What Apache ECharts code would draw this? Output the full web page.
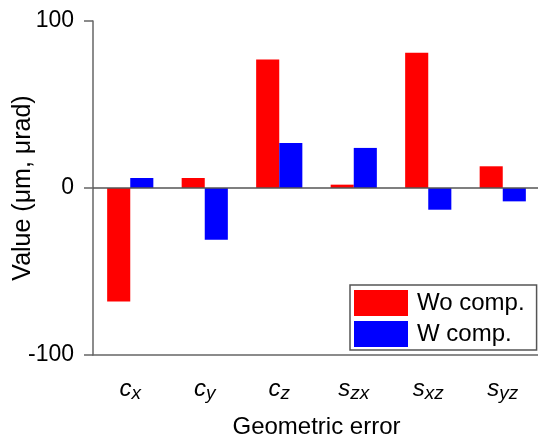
<!DOCTYPE html>
<html>
<head>
<meta charset="utf-8">
<script src="https://cdn.jsdelivr.net/npm/echarts@6/dist/echarts.min.js"></script>
<style>
html,body{margin:0;padding:0;background:#fff}
#chart{width:538px;height:438px}
</style>
</head>
<body>
<div id="chart"></div>
<script>
// categories as base letter + subscript
const catBase = ['c', 'c', 'c', 's', 's', 's']
const catSub = ['x', 'y', 'z', 'zx', 'xz', 'yz']
const woComp = [-68, 6, 77, 2, 81, 13]
const wComp = [6, -31, 27, 24, -13, -8]
const yTicks = [-100, 0, 100]

const categories = catBase.map((b, i) => `{b|${b}}{s|${catSub[i]}}`)
const font = 'Liberation Sans, Arial, sans-serif'

const chart = echarts.init(document.getElementById('chart'))
chart.setOption({
	animation: false,
	grid: { left: 93, right: -2, top: 21, bottom: 83, containLabel: false, outerBoundsMode: 'none' },
	legend: {
		orient: 'vertical',
		left: 350,
		top: 285,
		itemWidth: 54,
		itemHeight: 26,
		itemGap: 5,
		padding: [5, 12, 3, 4],
		borderColor: '#555',
		borderWidth: 1.5,
		borderRadius: 0,
		textStyle: { fontSize: 24, fontFamily: font, color: '#000', padding: [0, 0, 0, 4] },
		icon: 'rect',
		data: ['Wo comp.', 'W comp.']
	},
	xAxis: {
		type: 'category',
		data: categories,
		name: 'Geometric error',
		nameLocation: 'middle',
		nameGap: 60,
		nameMoveOverlap: false,
		nameTextStyle: { fontSize: 24, fontFamily: font, color: '#000' },
		axisLine: { onZero: false, lineStyle: { color: '#666', width: 1.5 } },
		axisTick: { alignWithLabel: true, length: 9, lineStyle: { color: '#666', width: 1.5 } },
		axisLabel: {
			margin: 21,
			interval: 0,
			rich: {
				b: { fontSize: 24, fontStyle: 'italic', fontFamily: font, color: '#000' },
				s: { fontSize: 19, fontStyle: 'italic', fontFamily: font, color: '#000', verticalAlign: 'bottom', padding: [8, 0, 0, 0] }
			}
		}
	},
	yAxis: {
		type: 'value',
		min: -100,
		max: 100,
		interval: 100,
		name: 'Value (μm, μrad)',
		nameLocation: 'middle',
		nameGap: 57,
		nameMoveOverlap: false,
		nameTextStyle: { fontSize: 25, fontFamily: font, color: '#000' },
		axisLine: { show: true, lineStyle: { color: '#666', width: 1.5 } },
		axisTick: { show: true, length: 9, lineStyle: { color: '#666', width: 1.5 } },
		splitLine: { show: false },
		axisLabel: {
			margin: 19,
			fontSize: 23,
			fontFamily: font,
			color: '#000',
			formatter: v => yTicks.includes(v) ? String(v) : ''
		}
	},
	series: [
		{
			name: 'Wo comp.',
			type: 'bar',
			data: woComp,
			barGap: '0%',
			barCategoryGap: '38%',
			itemStyle: { color: '#ff0000' },
			markLine: {
				silent: true,
				symbol: 'none',
				label: { show: false },
				lineStyle: { color: '#555', width: 1.5, type: 'solid' },
				data: [{ yAxis: 0 }]
			}
		},
		{
			name: 'W comp.',
			type: 'bar',
			data: wComp,
			itemStyle: { color: '#0000ff' }
		}
	]
})
</script>
</body>
</html>
